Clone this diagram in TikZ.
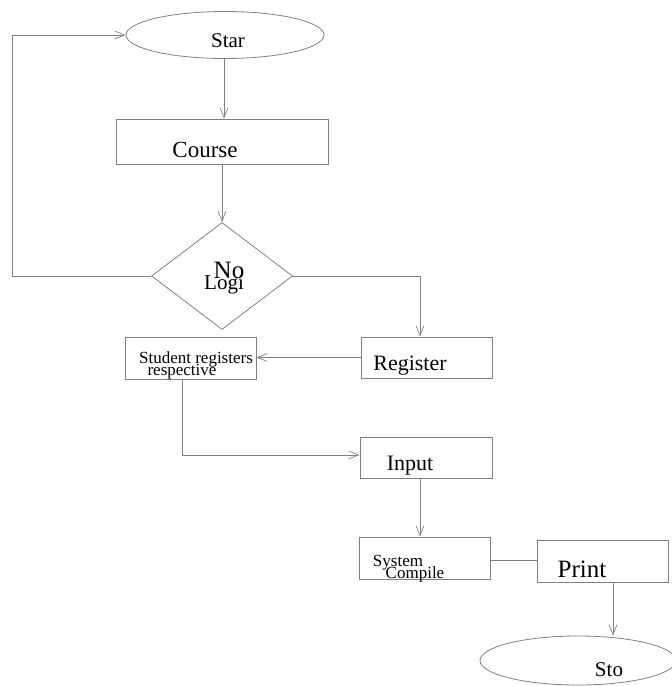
\documentclass[tikz,border=0pt]{standalone}
\usepackage{fontspec}
\setmainfont{Liberation Serif}
\usetikzlibrary{shapes.geometric,arrows.meta,positioning}

\begin{document}
\begin{tikzpicture}[x=1pt,y=-1pt,
	line/.style={draw=black!50,line width=0.8pt},
	arr/.style={line,-{Straight Barb[length=10pt,width=8pt,line width=0.7pt]}},
	box/.style={line,rectangle,inner sep=0pt},
	txt/.style={anchor=base,inner sep=0pt}]
	\useasboundingbox (0,0) rectangle (672,686);
	% shapes
	\node[line,ellipse,minimum width=198pt,minimum height=47pt,inner sep=0pt](star) at (225,35){};
	\node[line,diamond,minimum width=141pt,minimum height=107pt,inner sep=0pt](logi) at (222,276){};
	\node[line,ellipse,minimum width=196pt,minimum height=49pt,inner sep=0pt](sto) at (578,660.5){};
	\foreach \nm/\x/\y/\w/\h in {course/222/141.5/212/45,student/190.5/358/131/42,register/426.5/357.5/131/41,input/426/457.5/132/41,system/424.5/558/131/42,print/602.5/561/131/42}
		\node[box,minimum width=\w pt,minimum height=\h pt](\nm) at (\x,\y){};
	% texts
	\foreach \nm/\x/\y/\s/\t in {tstar/228/47/21/Star,tcourse/205/157/23/Course,tno/229/278/25/No,tlogi/224/289/21/Logi,tstud/196/363/17/Student registers,tresp/182/375/17/respective,treg/410/370/22/Register,tinput/410/470/22/Input,tsys/398/566/17/System,tcomp/415/578/17/Compile,tprint/582/577/25/Print,tsto/609/676/21/Sto}
		\node[txt,font=\fontsize{\s}{\s}\selectfont](\nm) at (\x,\y){\t};
	% connectors
	\coordinate (back) at (12,276);
	\draw[arr] ([xshift=-1pt]star.south) -- ([xshift=2pt]course.north);
	\draw[arr] (course.south) -- (logi.north);
	\draw[arr] (logi.west) -- (back) |- (star.west);
	\draw[arr] (logi.east) -| ([xshift=-6.5pt]register.north);
	\draw[arr] (register.west) -- (register.west -| student.east);
	\draw[arr] ([xshift=-8.5pt]student.south) |- ([yshift=2.5pt]input.west);
	\draw[arr] ([xshift=-6pt]input.south) -- ([xshift=-6pt]input.south |- system.north);
	\draw[line] ([yshift=-2pt]system.east) -- ([yshift=-2pt]system.east -| print.west);
	\draw[arr] ([xshift=10.5pt]print.south) -- ([xshift=10.5pt]print.south |- sto.north);
\end{tikzpicture}
\end{document}
